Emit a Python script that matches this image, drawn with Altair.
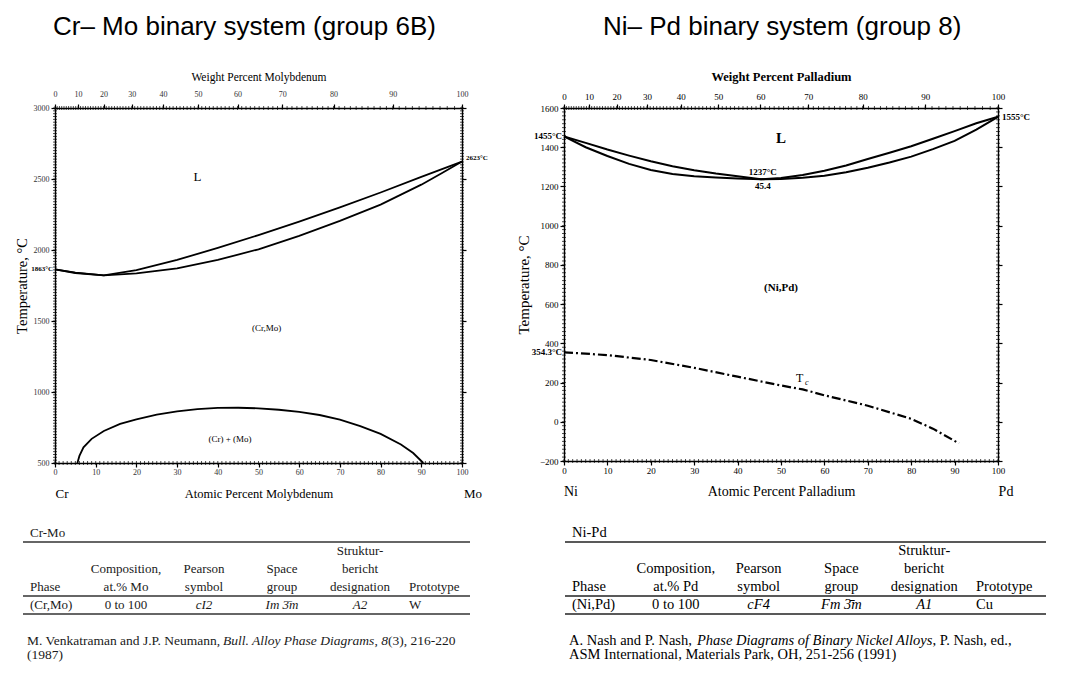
import altair as alt
import pandas as pd

SERIF = "Liberation Serif"
SANS = "Liberation Sans"

# ================= Cr–Mo diagram =================
crmo_liq_at = [0, 5, 12, 20, 30, 40, 50, 60, 70, 80, 90, 100]
crmo_liq_T = [1863, 1840, 1822, 1858, 1930, 2015, 2105, 2200, 2300, 2405, 2515, 2623]
crmo_sol_at = [0, 5, 12, 20, 30, 40, 50, 60, 70, 80, 85, 90, 95, 100]
crmo_sol_T = [1863, 1838, 1822, 1835, 1870, 1930, 2005, 2100, 2205, 2320, 2390, 2460, 2540, 2623]
crmo_gap_at = [5.5, 6, 7, 9, 12, 16, 20, 25, 30, 35, 40, 45, 50, 55, 60, 65, 70, 75, 80, 85, 88, 90.5]
crmo_gap_T = [500, 550, 610, 670, 725, 775, 808, 840, 863, 880, 888, 889, 885, 875, 860, 838, 805, 760, 705, 630, 570, 500]
crmo_region_text = ["L", "(Cr,Mo)", "(Cr) + (Mo)"]
crmo_region_at = [35, 52, 43]
crmo_region_T = [2515, 1450, 670]
crmo_left_text = ["1863°C"]
crmo_left_T = [1863]
crmo_right_text = ["2623°C"]
crmo_right_T = [2623]
crmo_T_ticks = [500, 1000, 1500, 2000, 2500, 3000]
crmo_T_minor = list(range(500, 3001, 20))

# ================= Ni–Pd diagram =================
nipd_liq_at = [0, 5, 10, 15, 20, 25, 30, 35, 40, 45.4, 50, 55, 60, 65, 70, 75, 80, 85, 90, 95, 100]
nipd_liq_T = [1455, 1422, 1388, 1357, 1328, 1303, 1283, 1266, 1252, 1237, 1243, 1258, 1280, 1307, 1340, 1372, 1405, 1443, 1482, 1522, 1555]
nipd_sol_at = [0, 5, 10, 15, 20, 25, 30, 35, 40, 45.4, 50, 55, 60, 65, 70, 75, 80, 85, 90, 95, 100]
nipd_sol_T = [1455, 1400, 1355, 1315, 1284, 1263, 1252, 1245, 1240, 1237, 1238, 1244, 1255, 1272, 1295, 1322, 1352, 1390, 1432, 1490, 1555]
nipd_tc_at = [0, 10, 20, 30, 40, 50, 55, 60, 70, 80, 85, 91]
nipd_tc_T = [354.3, 340, 315, 275, 230, 185, 165, 135, 82, 15, -35, -110]
nipd_region_text = ["L", "(Ni,Pd)"]
nipd_region_at = [50, 50]
nipd_region_T = [1447, 684]
nipd_min_text = ["1237°C", "45.4"]
nipd_min_at = [45.8, 45.8]
nipd_min_T = [1275, 1203]
nipd_left_text = ["1455°C", "354.3°C"]
nipd_left_T = [1455, 354.3]
nipd_right_text = ["1555°C"]
nipd_right_T = [1555]
nipd_tc_label_at = [54.3]
nipd_tc_label_T = [222]
nipd_T_ticks = [-200, 0, 200, 400, 600, 800, 1000, 1200, 1400, 1600]
nipd_T_minor = list(range(-200, 1601, 20))

at_major = list(range(0, 101, 10))
at_minor = list(range(0, 101, 1))
wt_major = list(range(0, 101, 10))
wt_minor = list(range(0, 101, 1))

# ================= tables =================
tab_cols = ["phase", "comp", "pearson", "space", "strukt", "proto"]
tab_rows = ["title", "h1", "h2", "h3", "data", "gap", "cite"]

crmo_name = "Cr-Mo"
crmo_head1 = ["", "", "", "", "Struktur-", ""]
crmo_head2 = ["", "Composition,", "Pearson", "Space", "bericht", ""]
crmo_head3 = ["Phase", "at.% Mo", "symbol", "group", "designation", "Prototype"]
crmo_cells = ["(Cr,Mo)", "0 to 100", "cI2", "Im 3\u0304m", "A2", "W"]
crmo_cite1 = ["M. Venkatraman and J.P. Neumann, ", "Bull. Alloy Phase Diagrams", ", ", "8", "(3), 216-220"]
crmo_cite1_italic = [False, True, False, True, False]
crmo_cite2 = "(1987)"

nipd_name = "Ni-Pd"
nipd_head1 = ["", "", "", "", "Struktur-", ""]
nipd_head2 = ["", "Composition,", "Pearson", "Space", "bericht", ""]
nipd_head3 = ["Phase", "at.% Pd", "symbol", "group", "designation", "Prototype"]
nipd_cells = ["(Ni,Pd)", "0 to 100", "cF4", "Fm 3\u0304m", "A1", "Cu"]
nipd_cite1 = ["A. Nash and P. Nash, ", "Phase Diagrams of Binary Nickel Alloys", ", P. Nash, ed.,"]
nipd_cite1_italic = [False, True, False]
nipd_cite2 = "ASM International, Materials Park, OH, 251-256 (1991)"


def wt_to_at(w, m_sol, m_solv):
    a = w / m_sol
    b = (100 - w) / m_solv
    return a / (a + b) * 100


def panel(c):
    W, H = c["w"], c["h"]
    ms, mv = c["m_sol"], c["m_solv"]
    xs = alt.Scale(domain=[0, 100], nice=False, zero=False)
    ys = alt.Scale(domain=c["ydom"], nice=False, zero=False)
    ax = dict(grid=False, domainColor="black", domainWidth=1.4, tickColor="black", tickWidth=1.2,
              tickSize=4, labelColor=c["lab_color"], titleColor="black", labelFont=SERIF, titleFont=SERIF,
              labelFlush=False, labelOverlap=False, labelFontSize=c["lab_size"])
    top_vals = [wt_to_at(w, ms, mv) for w in wt_major]
    lab_expr = f"format(datum.value*{ms}/(datum.value*{ms}+(100-datum.value)*{mv})*100, '.0f')"

    x_bot = alt.X("at:Q", scale=xs, axis=alt.Axis(
        orient="bottom", values=at_major, title=c["bot_title"], titleFontSize=c["bot_title_size"],
        titleFontWeight=c["bot_title_weight"], titlePadding=c["bot_title_pad"], labelPadding=c["bot_lab_pad"], **ax))
    x_top = alt.X("at:Q", scale=xs, axis=alt.Axis(
        orient="top", values=top_vals, labelExpr=lab_expr, title=c["top_title"],
        titleFontSize=c["top_title_size"], titleFontWeight=c["top_title_weight"],
        titlePadding=c["top_title_pad"], labelPadding=c["top_lab_pad"], **ax))
    y_left = alt.Y("T:Q", scale=ys, axis=alt.Axis(
        orient="left", values=c["yticks"], format="d", title="Temperature, °C", titleFontSize=c["y_title_size"],
        titleFontWeight="normal", titlePadding=c["y_title_pad"], labelPadding=2, **ax))
    y_right = alt.Y("T:Q", scale=ys, axis=alt.Axis(
        orient="right", values=c["yticks"], labels=False, title=None, **ax))
    x_n = alt.X("at:Q", scale=xs, axis=None)
    y_n = alt.Y("T:Q", scale=ys, axis=None)

    layers = []
    for i, (cat, cT, style) in enumerate(c["curves"]):
        df = pd.DataFrame({"at": cat, "T": cT})
        if i == 0:
            enc = dict(x=x_bot, y=y_left)
        elif i == 1:
            enc = dict(x=x_top, y=y_right)
        else:
            enc = dict(x=x_n, y=y_n)
        layers.append(alt.Chart(df).mark_line(color="black", **style).encode(**enc))

    # minor ticks on the four sides of the frame
    layers.append(alt.Chart(pd.DataFrame({"at": at_minor})).mark_tick(
        orient="vertical", size=4, thickness=1, color="black").encode(
        x=x_n, y=alt.YDatum(c["ydom"][0], scale=ys, axis=None)))
    layers.append(alt.Chart(pd.DataFrame({"w": wt_minor})).transform_calculate(
        at=f"(datum.w/{ms})/((datum.w/{ms})+((100-datum.w)/{mv}))*100").mark_tick(
        orient="vertical", size=4, thickness=1, color="black").encode(
        x=x_n, y=alt.YDatum(c["ydom"][1], scale=ys, axis=None)))
    for xv in (0, 100):
        layers.append(alt.Chart(pd.DataFrame({"T": c["yminor"]})).mark_tick(
            orient="horizontal", size=4, thickness=1, color="black").encode(
            y=y_n, x=alt.XDatum(xv, scale=xs, axis=None)))

    # text annotations inside / beside the plot
    for (tx, tat, tT, style) in c["texts"]:
        df = pd.DataFrame({"at": tat, "T": tT, "label": tx})
        layers.append(alt.Chart(df).mark_text(font=SERIF, color="black", **style).encode(
            x=x_n, y=y_n, text="label:N"))
    for (tx, tT, style) in c["left_texts"]:
        df = pd.DataFrame({"T": tT, "label": tx})
        layers.append(alt.Chart(df).mark_text(font=SERIF, color="black", align="right", **style).encode(
            x=alt.XDatum(0, scale=xs, axis=None), y=y_n, text="label:N"))
    for (tx, tT, style) in c["right_texts"]:
        df = pd.DataFrame({"T": tT, "label": tx})
        layers.append(alt.Chart(df).mark_text(font=SERIF, color="black", align="left", **style).encode(
            x=alt.XDatum(100, scale=xs, axis=None), y=y_n, text="label:N"))
    # element names at both ends of the composition axis
    for xv, name, ddx in c["ends"]:
        layers.append(alt.Chart(pd.DataFrame({"label": [name]})).mark_text(
            font=SERIF, color="black", fontSize=c["end_size"], fontWeight=c["end_weight"], dx=ddx).encode(
            x=alt.XDatum(xv, scale=xs, axis=None), y=alt.value(H + c["end_dy"]), text="label:N"))
    # panel heading
    layers.append(alt.Chart(pd.DataFrame({"label": [c["title"]]})).mark_text(
        font=SANS, fontSize=26, color="black", align="left", baseline="middle").encode(
        x=alt.value(c["title_dx"]), y=alt.value(c["title_y"]), text="label:N"))

    return alt.layer(*layers).resolve_axis(x="independent", y="independent").properties(width=W, height=H)


crmo_panel = panel(dict(
    w=407, h=355, ydom=[500, 3000], yticks=crmo_T_ticks, yminor=crmo_T_minor,
    m_sol=95.95, m_solv=52.00, lab_size=8, lab_color="#333",
    bot_title="Atomic Percent Molybdenum", bot_title_size=12.5, bot_title_weight="normal", bot_title_pad=11, bot_lab_pad=1,
    top_title="Weight Percent Molybdenum", top_title_size=11.5, top_title_weight="normal", top_title_pad=8, top_lab_pad=6,
    y_title_size=14.5, y_title_pad=4,
    curves=[(crmo_liq_at, crmo_liq_T, dict(strokeWidth=1.8)),
            (crmo_sol_at, crmo_sol_T, dict(strokeWidth=1.8)),
            (crmo_gap_at, crmo_gap_T, dict(strokeWidth=1.8))],
    texts=[([crmo_region_text[0]], [crmo_region_at[0]], [crmo_region_T[0]], dict(fontSize=13)),
           (crmo_region_text[1:], crmo_region_at[1:], crmo_region_T[1:], dict(fontSize=9))],
    left_texts=[(crmo_left_text, crmo_left_T, dict(fontSize=7, fontWeight="bold", dx=-2))],
    right_texts=[(crmo_right_text, crmo_right_T, dict(fontSize=7, fontWeight="bold", dx=4, dy=-4))],
    ends=[(0, "Cr", 7), (100, "Mo", 11)], end_size=13, end_weight="normal", end_dy=31,
    title="Cr– Mo binary system (group 6B)", title_dx=-2, title_y=-81,
))

nipd_panel = panel(dict(
    w=434, h=353, ydom=[-200, 1600], yticks=nipd_T_ticks, yminor=nipd_T_minor,
    m_sol=106.42, m_solv=58.69, lab_size=9, lab_color="black",
    bot_title="Atomic Percent Palladium", bot_title_size=14, bot_title_weight="normal", bot_title_pad=9, bot_lab_pad=1,
    top_title="Weight Percent Palladium", top_title_size=12.5, top_title_weight="bold", top_title_pad=9, top_lab_pad=3,
    y_title_size=15, y_title_pad=8,
    curves=[(nipd_liq_at, nipd_liq_T, dict(strokeWidth=2)),
            (nipd_sol_at, nipd_sol_T, dict(strokeWidth=2)),
            (nipd_tc_at, nipd_tc_T, dict(strokeWidth=2.2, strokeDash=[9, 3, 2, 3]))],
    texts=[([nipd_region_text[0]], [nipd_region_at[0]], [nipd_region_T[0]], dict(fontSize=15, fontWeight="bold")),
           (nipd_region_text[1:], nipd_region_at[1:], nipd_region_T[1:], dict(fontSize=11, fontWeight="bold")),
           (nipd_min_text, nipd_min_at, nipd_min_T, dict(fontSize=9, fontWeight="bold")),
           (["T"], nipd_tc_label_at, nipd_tc_label_T, dict(fontSize=12)),
           (["c"], nipd_tc_label_at, nipd_tc_label_T, dict(fontSize=8, fontStyle="italic", dx=7, dy=5))],
    left_texts=[(nipd_left_text, nipd_left_T, dict(fontSize=9, fontWeight="bold", dx=-2))],
    right_texts=[(nipd_right_text, nipd_right_T, dict(fontSize=9, fontWeight="bold", dx=4))],
    ends=[(0, "Ni", 7), (100, "Pd", 8)], end_size=14, end_weight="normal", end_dy=31,
    title="Ni– Pd binary system (group 8)", title_dx=39, title_y=-81,
))


def table(c):
    W, H = c["w"], c["h"]
    fs = c["fs"]
    xs = alt.Scale(type="point", domain=tab_cols, range=c["xrange"], padding=0)
    ys = alt.Scale(type="band", domain=tab_rows, paddingInner=0, paddingOuter=0)
    X = alt.X("col:N", scale=xs, axis=None)
    Y = alt.Y("row:N", scale=ys, axis=None)
    recs = [{"col": "phase", "row": "title", "text": c["name"], "style": "left0"}]
    for rname, arr in (("h1", c["h1"]), ("h2", c["h2"]), ("h3", c["h3"]), ("data", c["cells"])):
        for col, t in zip(tab_cols, arr):
            if not t:
                continue
            if col == "phase":
                st = "left0"
            elif col == "proto":
                st = "left5"
            elif rname == "data" and col in ("pearson", "space", "strukt"):
                st = "italic"
            else:
                st = "center"
            recs.append({"col": col, "row": rname, "text": t, "style": st})
    cells = pd.DataFrame(recs)
    base = alt.Chart(cells)
    tcol = c["color"]
    layers = [
        base.transform_filter("datum.style == 'center'").mark_text(font=SERIF, fontSize=fs, color=tcol).encode(x=X, y=Y, text="text:N"),
        base.transform_filter("datum.style == 'italic'").mark_text(font=SERIF, fontSize=fs, fontStyle="italic", color=tcol).encode(x=X, y=Y, text="text:N"),
        base.transform_filter("datum.style == 'left0'").mark_text(font=SERIF, fontSize=fs, align="left", dx=c["dx0"], color=tcol).encode(x=X, y=Y, text="text:N"),
        base.transform_filter("datum.style == 'left5'").mark_text(font=SERIF, fontSize=fs, align="left", dx=c["dx5"], color=tcol).encode(x=X, y=Y, text="text:N"),
    ]
    rules = pd.DataFrame({"row": ["h1", "data", "gap"]})
    layers.append(alt.Chart(rules).mark_rule(color=c["rule_color"], strokeWidth=1.7).encode(
        y=alt.Y("row:N", scale=ys, axis=None, bandPosition=0),
        x=alt.value(c["rule_x"][0]), x2=alt.value(c["rule_x"][1])))
    # citation: first line in segments (roman / italic), second line below
    for seg, ital, off in zip(c["cite1"], c["cite1_italic"], c["cite1_dx"]):
        layers.append(alt.Chart(pd.DataFrame({"row": ["cite"], "text": [seg]})).mark_text(
            font=SERIF, fontSize=c["cfs"], align="left", dx=off, color=tcol,
            fontStyle="italic" if ital else "normal").encode(
            x=alt.value(c["cite_x"]), y=Y, text="text:N"))
    layers.append(alt.Chart(pd.DataFrame({"row": ["cite"], "text": [c["cite2"]]})).mark_text(
        font=SERIF, fontSize=c["cfs"], align="left", dy=c["cite_dy"], color=tcol).encode(
        x=alt.value(c["cite_x"]), y=Y, text="text:N"))
    return alt.layer(*layers).properties(width=W, height=H)


crmo_table = table(dict(
    w=415, h=126, fs=13, cfs=13.5, color="#1a1a1a", rule_color="#333", rule_x=(-32, 415),
    xrange=[-7, 383], dx0=-18, dx5=-29, name=crmo_name,
    h1=crmo_head1, h2=crmo_head2, h3=crmo_head3, cells=crmo_cells,
    cite1=crmo_cite1, cite1_italic=crmo_cite1_italic, cite1_dx=[0, 196, 347.5, 354.2, 361],
    cite2=crmo_cite2, cite_x=-28, cite_dy=14,
))

nipd_table = table(dict(
    w=481, h=126, fs=14.5, cfs=14.5, color="black", rule_color="#222", rule_x=(0, 481),
    xrange=[28, 442], dx0=-21, dx5=-31, name=nipd_name,
    h1=nipd_head1, h2=nipd_head2, h3=nipd_head3, cells=nipd_cells,
    cite1=nipd_cite1, cite1_italic=nipd_cite1_italic, cite1_dx=[0, 128, 363.6],
    cite2=nipd_cite2, cite_x=4, cite_dy=14,
))

top = alt.hconcat(crmo_panel, nipd_panel, spacing=26)
bottom = alt.hconcat(crmo_table, nipd_table, spacing=91)
chart = alt.vconcat(top, bottom, spacing=21).properties(
    padding={"left": 5, "top": 5, "right": 5, "bottom": 0}
).configure(background="white").configure_view(stroke="transparent")

chart.save("out.html", embed_options={"renderer": "svg", "actions": False})
